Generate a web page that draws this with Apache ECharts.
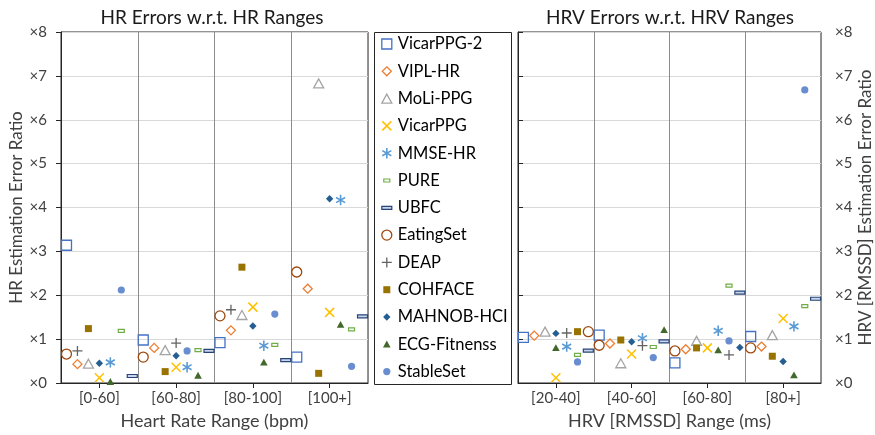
<!DOCTYPE html>
<html>
<head>
<meta charset="utf-8">
<script src="https://cdn.jsdelivr.net/npm/echarts@6/dist/echarts.min.js"></script>
<style>
    html, body { margin: 0; padding: 0; background: #fff; }
    #main { width: 875px; height: 435px; }
</style>
</head>
<body>
<div id="main"></div>
<script>
// datasets, in legend order
var seriesNames = ['VicarPPG-2', 'VIPL-HR', 'MoLi-PPG', 'VicarPPG', 'MMSE-HR', 'PURE', 'UBFC',
    'EatingSet', 'DEAP', 'COHFACE', 'MAHNOB-HCI', 'ECG-Fitnenss', 'StableSet'];

var hrCategories = ['[0-60]', '[60-80]', '[80-100]', '[100+]'];
var hrvCategories = ['[20-40]', '[40-60]', '[60-80]', '[80+]'];

// HR estimation error ratio per dataset, one value per HR range
var hrErrors = [
    [3.14, 0.98, 0.92, 0.59],   // VicarPPG-2
    [0.43, 0.80, 1.20, 2.15],   // VIPL-HR
    [0.44, 0.75, 1.55, 6.83],   // MoLi-PPG
    [0.12, 0.36, 1.73, 1.61],   // VicarPPG
    [0.47, 0.36, 0.85, 4.17],   // MMSE-HR
    [1.19, 0.75, 0.87, 1.22],   // PURE
    [0.16, 0.73, 0.52, 1.52],   // UBFC
    [0.66, 0.59, 1.53, 2.53],   // EatingSet
    [0.73, 0.91, 1.67, null],   // DEAP
    [1.24, 0.26, 2.64, 0.22],   // COHFACE
    [0.45, 0.62, 1.30, 4.20],   // MAHNOB-HCI
    [0.03, 0.17, 0.47, 1.33],   // ECG-Fitnenss
    [2.12, 0.73, 1.57, 0.38]    // StableSet
];

// HRV [RMSSD] estimation error ratio per dataset, one value per RMSSD range
var hrvErrors = [
    [1.04, 1.09, 0.46, 1.06],
    [1.08, 0.90, 0.77, 0.83],
    [1.17, 0.45, 0.96, 1.09],
    [0.12, 0.66, 0.80, 1.47],
    [0.83, 1.02, 1.19, 1.29],
    [0.64, 0.82, 2.22, 1.75],
    [0.74, 0.95, 2.06, 1.92],
    [1.17, 0.86, 0.73, 0.80],
    [1.14, 0.85, 0.64, null],
    [1.17, 0.98, 0.80, 0.61],
    [1.13, 0.94, 0.81, 0.49],
    [0.80, 1.21, 0.75, 0.18],
    [0.48, 0.58, 0.96, 6.68]
];

// dodge slot (0..6) of each marker inside its range band
var hrSlot = [
    [0, 0, 0, 0], [1, 1, 1, 1], [2, 2, 2, 2], [3, 3, 3, 3], [4, 4, 4, 4], [5, 5, 5, 5], [6, 6, 6, 6],
    [0, 0, 0, 0], [1, 3, 1, 1], [2, 2, 2, 2], [3, 3, 3, 3], [4, 5, 4, 4], [5, 4, 5, 5]
];
var hrvSlot = [
    [0, 0, 0, 0], [1, 1, 1, 1], [2, 2, 2, 2], [3, 3, 3, 3], [4, 4, 4, 4], [5, 5, 5, 5], [6, 6, 6, 6],
    [6, 0, 0, 0], [4, 4, 5, 5], [5, 2, 2, 2], [3, 3, 6, 3], [3, 6, 4, 4], [5, 5, 5, 5]
];

// marker styles (all symbols drawn in a 12x12 box so legend icons keep their size)
var pad = 'path://M0,0M12,12';
var markers = [
    {symbol: pad + 'M1,1H11V11H1Z', fill: 'rgba(0,0,0,0)', stroke: '#4472C4', lw: 1.3},
    {symbol: pad + 'M6,1.5L10.5,6L6,10.5L1.5,6Z', fill: 'rgba(0,0,0,0)', stroke: '#ED7D31', lw: 1.3},
    {symbol: pad + 'M6,1.5L11,10.5H1Z', fill: 'rgba(0,0,0,0)', stroke: '#A5A5A5', lw: 1.3},
    {symbol: pad + 'M1.5,1.5L10.5,10.5M10.5,1.5L1.5,10.5', fill: 'rgba(0,0,0,0)', stroke: '#FFC000', lw: 1.5},
    {symbol: pad + 'M6,0.8V11.2M1.5,3.4L10.5,8.6M1.5,8.6L10.5,3.4', fill: 'rgba(0,0,0,0)', stroke: '#5B9BD5', lw: 1.6},
    {symbol: pad + 'M3,4.5H9V7.5H3Z', fill: '#ffffff', stroke: '#70AD47', lw: 1.2},
    {symbol: pad + 'M1,4.5H11V7.5H1Z', fill: '#c9d5ea', stroke: '#264478', lw: 1.2},
    {symbol: pad + 'M1,6A5,5 0 1 1 11,6A5,5 0 1 1 1,6Z', fill: 'rgba(0,0,0,0)', stroke: '#9E480E', lw: 1.3},
    {symbol: pad + 'M6,1V11M1,6H11', fill: 'rgba(0,0,0,0)', stroke: '#636363', lw: 1.3},
    {symbol: pad + 'M2.5,2.5H9.5V9.5H2.5Z', fill: '#997300', stroke: '#997300', lw: 0},
    {symbol: pad + 'M6,2.3L9.7,6L6,9.7L2.3,6Z', fill: '#255E91', stroke: '#255E91', lw: 0},
    {symbol: pad + 'M6,2.3L9.8,9.2H2.2Z', fill: '#43682B', stroke: '#43682B', lw: 0},
    {symbol: pad + 'M2.4,6A3.6,3.6 0 1 1 9.6,6A3.6,3.6 0 1 1 2.4,6Z', fill: '#698ED0', stroke: '#698ED0', lw: 0}
];

var FONT = 'Lato';
var AXIS_COLOR = '#262626';
var TEXT_COLOR = '#404040';

function itemStyleOf(m) {
    return {color: m.fill, borderColor: m.stroke, borderWidth: m.lw, opacity: 1};
}

function buildPoints(values, slots) {
    var pts = [];
    for (var c = 0; c < values.length; c++) {
        if (values[c] == null) continue;
        pts.push([c + (slots[c] + 0.5) / 7, values[c]]);
    }
    return pts;
}

function categoryAxis(gridIndex, cats, title) {
    return {
        type: 'category',
        gridIndex: gridIndex,
        data: cats,
        boundaryGap: true,
        name: title,
        nameLocation: 'middle',
        nameGap: 29,
        nameTextStyle: {fontFamily: FONT, fontSize: 18, color: TEXT_COLOR},
        axisLine: {lineStyle: {color: AXIS_COLOR, width: 1}},
        axisTick: {show: true, alignWithLabel: true, length: 5, inside: false, lineStyle: {color: AXIS_COLOR}},
        axisLabel: {fontFamily: FONT, fontSize: 15, color: TEXT_COLOR, margin: 8},
        splitLine: {show: true, lineStyle: {color: '#8c8c8c', width: 1}}
    };
}

function positionAxis(gridIndex) {
    return {type: 'value', gridIndex: gridIndex, min: 0, max: 4, show: false,
        splitLine: {show: false}, axisLine: {show: false}};
}

function errorAxis(gridIndex, position, title) {
    return {
        type: 'value',
        gridIndex: gridIndex,
        position: position,
        min: 0,
        max: 8,
        interval: 1,
        name: title,
        nameLocation: 'middle',
        nameRotate: 90,
        nameGap: 36,
        nameTextStyle: {fontFamily: FONT, fontSize: 17, color: TEXT_COLOR},
        axisLine: {show: true, lineStyle: {color: AXIS_COLOR, width: 1}},
        axisTick: {show: true, length: 5, lineStyle: {color: AXIS_COLOR}},
        axisLabel: {
            fontFamily: FONT, fontSize: 15, color: TEXT_COLOR, margin: 14,
            formatter: function (v) { return '\u00d7' + v; }
        },
        splitLine: {show: true, lineStyle: {color: '#d9d9d9', width: 1}}
    };
}

var series = [];
for (var i = 0; i < seriesNames.length; i++) {
    var m = markers[i];
    series.push({
        name: seriesNames[i], type: 'scatter', xAxisIndex: 1, yAxisIndex: 0,
        symbol: m.symbol, symbolSize: 12, symbolKeepAspect: true,
        itemStyle: itemStyleOf(m),
        emphasis: {disabled: true},
        data: buildPoints(hrErrors[i], hrSlot[i])
    });
    series.push({
        name: seriesNames[i], type: 'scatter', xAxisIndex: 3, yAxisIndex: 1,
        symbol: m.symbol, symbolSize: 12, symbolKeepAspect: true,
        itemStyle: itemStyleOf(m),
        emphasis: {disabled: true},
        data: buildPoints(hrvErrors[i], hrvSlot[i])
    });
}

var legendData = seriesNames.map(function (n, i) {
    return {name: n, icon: markers[i].symbol, itemStyle: itemStyleOf(markers[i])};
});

var chart = echarts.init(document.getElementById('main'), null, {renderer: 'canvas'});
var option = {
    animation: false,
    backgroundColor: '#fff',
    textStyle: {fontFamily: FONT},
    grid: [
        {left: 61, top: 32, width: 307, height: 352, show: true, borderColor: AXIS_COLOR, borderWidth: 1, backgroundColor: 'transparent'},
        {left: 518, top: 32, width: 304, height: 352, show: true, borderColor: AXIS_COLOR, borderWidth: 1, backgroundColor: 'transparent'}
    ],
    xAxis: [
        categoryAxis(0, hrCategories, 'Heart Rate Range (bpm)'),
        positionAxis(0),
        categoryAxis(1, hrvCategories, 'HRV [RMSSD] Range (ms)'),
        positionAxis(1)
    ],
    yAxis: [
        errorAxis(0, 'left', 'HR Estimation Error Ratio'),
        errorAxis(1, 'right', 'HRV [RMSSD] Estimation Error Ratio')
    ],
    legend: {
        orient: 'vertical',
        left: 380,
        top: 34,
        padding: 0,
        itemWidth: 12,
        itemHeight: 12,
        itemGap: 7.3,
        selectedMode: false,
        data: legendData,
        textStyle: {fontFamily: FONT, fontSize: 16.5, lineHeight: 20, color: '#000'}
    },
    graphic: [
        {type: 'rect', silent: true, shape: {x: 374.5, y: 32.5, width: 137, height: 352},
            style: {fill: 'none', stroke: AXIS_COLOR, lineWidth: 1}},
        {type: 'text', silent: true, x: 212, y: 18,
            style: {text: 'HR Errors w.r.t. HR Ranges', fontFamily: FONT, fontSize: 19, fill: '#1a1a1a', align: 'center', verticalAlign: 'middle'}},
        {type: 'text', silent: true, x: 670, y: 18,
            style: {text: 'HRV Errors w.r.t. HRV Ranges', fontFamily: FONT, fontSize: 19, fill: '#1a1a1a', align: 'center', verticalAlign: 'middle'}}
    ],
    series: series
};
chart.setOption(option);
</script>
</body>
</html>
